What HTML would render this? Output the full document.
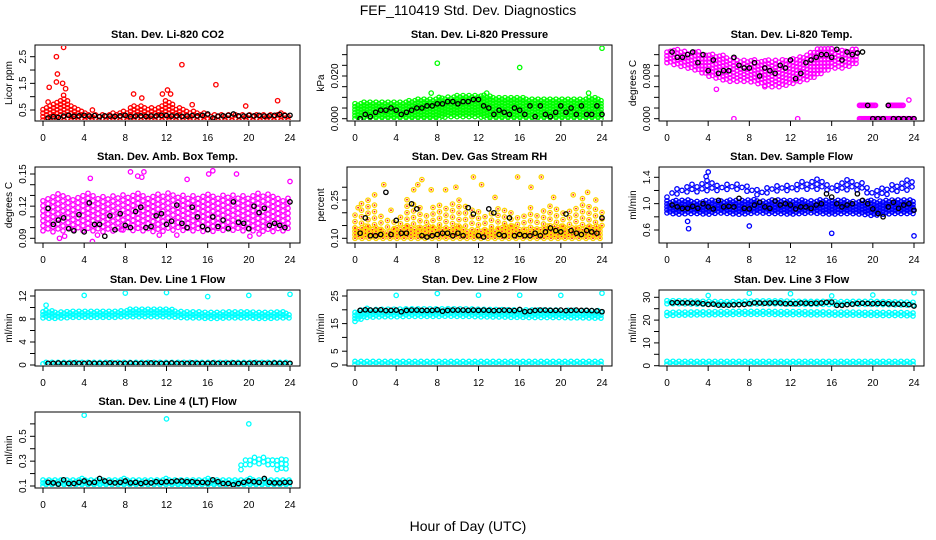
<!DOCTYPE html>
<html><head><meta charset="utf-8">
<style>
html,body{margin:0;padding:0;background:#fff;}
svg{display:block;font-family:"Liberation Sans",sans-serif;}
</style></head>
<body>
<svg id="chart" width="936" height="540" viewBox="0 0 936 540">
<text x="468" y="15" text-anchor="middle" font-size="14">FEF_110419  Std. Dev. Diagnostics</text>
<text x="468" y="531" text-anchor="middle" font-size="14">Hour of Day (UTC)</text>
</svg>
<script>
// ---------- data ----------
const hoursAll = [0,1,2,3,4,5,6,7,8,9,10,11,12,13,14,15,16,17,18,19,20,21,22,23,24];
const xTicks = [0,4,8,12,16,20,24];

// CO2
const co2Lo = [0.12,0.12,0.12,0.12,0.12,0.12,0.12,0.12,0.12,0.12,0.12,0.12,0.12,0.12,0.12,0.12,0.12,0.12,0.12,0.12,0.12,0.12,0.12,0.12,0.12];
const co2Hi = [0.5,0.8,0.9,0.7,0.4,0.35,0.35,0.4,0.45,0.7,0.6,0.55,0.9,0.6,0.5,0.4,0.35,0.35,0.3,0.3,0.3,0.3,0.3,0.4,0.35];
const co2OutH = [0.6,1.3,1.4,1.3,2.0,1.9,2.0,2.2,8.8,9.6,11.6,12.1,12.4,13.5,14.5,16.8,19.7,22.8,4.8,0.5];
const co2OutV = [1.35,1.55,1.85,2.5,2.85,1.5,1.05,1.3,1.1,0.95,1.1,1.25,1.1,2.2,0.7,1.45,0.65,0.85,0.5,0.8];
const co2Black = [0.2,0.25,0.22,0.27,0.3,0.26,0.28,0.3,0.27,0.29,0.25,0.28,0.27,0.26,0.28,0.3,0.25,0.27,0.28,0.26,0.27,0.28,0.3,0.29,0.27,0.28,0.26,0.27,0.29,0.28,0.3,0.35,0.2,0.27,0.28,0.3,0.35,0.28,0.27,0.3,0.28,0.3,0.27,0.28,0.3,0.33,0.29,0.3];

// Pressure
const prLo = [0.000,0.000,0.000,0.000,0.000,0.000,0.000,0.000,0.000,0.001,0.001,0.001,0.001,0.000,0.000,0.000,0.000,0.000,0.000,0.000,0.000,0.000,0.000,0.000,0.000];
const prHi = [0.007,0.008,0.008,0.008,0.008,0.008,0.009,0.009,0.010,0.010,0.011,0.011,0.011,0.011,0.010,0.010,0.010,0.009,0.009,0.009,0.009,0.009,0.009,0.010,0.009];
const prOutH = [8,16,24,7.4,12.8,22.7];
const prOutV = [0.026,0.024,0.033,0.012,0.012,0.012];
const prBlack = [0.000,0.002,0.001,0.003,0.004,0.004,0.005,0.004,0.002,0.003,0.004,0.005,0.005,0.006,0.006,0.007,0.007,0.008,0.008,0.007,0.008,0.008,0.009,0.009,0.006,0.005,0.002,0.004,0.003,0.002,0.005,0.004,0.002,0.006,0.001,0.006,0.002,0.001,0.003,0.006,0.003,0.005,0.002,0.006,0.002,0.002,0.006,0.002];

// Li-820 Temp
const tpHours = [0,1,2,3,4,5,6,7,8,9,10,11,12,13,14,15,16,17,18,18.5];
const tpLo = [0.0105,0.0100,0.0095,0.0090,0.0080,0.0075,0.0070,0.0070,0.0070,0.0065,0.0060,0.0060,0.0065,0.0070,0.0075,0.0085,0.0095,0.0095,0.0100,0.0105];
const tpHi = [0.0130,0.0130,0.0125,0.0125,0.0120,0.0120,0.0115,0.0110,0.0110,0.0110,0.0110,0.0110,0.0110,0.0115,0.0125,0.0135,0.0130,0.0130,0.0130,0.0130];
const tpSegStart = [18.7,18.7,21.5];
const tpSegEnd = [24,20.3,23.0];
const tpSegVal = [0.000,0.0025,0.0025];
const tpOutH = [6.5,12.7,23.5,4.8,9.5];
const tpOutV = [0.000,0.000,0.0035,0.0055,0.0060];
const tpBlack = [0.0125,0.0115,0.0115,0.0120,0.0125,0.0105,0.0120,0.0090,0.0110,0.0085,0.0090,0.0090,0.0115,0.0100,0.0095,0.0095,0.0105,0.0080,0.0095,0.0090,0.0085,0.0100,0.0095,0.0110,0.0075,0.0085,0.0105,0.0110,0.0115,0.0120,0.0120,0.0115,0.0130,0.0110,0.0125,0.0120,0.0123,0.0125,0.0025,0.0000,0.0000,0.0000,0.0025,0.0000,0.0000,0.0000,0.0000,0.0000];

// Amb box temp
const abLo = [0.097,0.096,0.097,0.098,0.097,0.097,0.096,0.097,0.098,0.097,0.097,0.096,0.097,0.098,0.097,0.097,0.096,0.097,0.098,0.097,0.097,0.097,0.096,0.097,0.097];
const abHi = [0.128,0.132,0.131,0.130,0.134,0.131,0.130,0.129,0.131,0.132,0.130,0.131,0.133,0.130,0.131,0.130,0.132,0.131,0.130,0.131,0.129,0.132,0.131,0.128,0.127];
const abOutH = [1.6,2.1,4.8,4.6,5.3,7.6,8.5,9.2,9.8,9.6,11.3,14.0,16.1,16.5,18.8,20.1,24.0,13.0,21.0];
const abOutV = [0.090,0.092,0.087,0.146,0.093,0.098,0.152,0.148,0.152,0.147,0.093,0.145,0.150,0.153,0.150,0.092,0.143,0.093,0.094];
const abBlack = [0.118,0.103,0.107,0.109,0.099,0.097,0.112,0.096,0.123,0.103,0.103,0.092,0.111,0.098,0.113,0.102,0.100,0.115,0.119,0.100,0.101,0.111,0.113,0.103,0.106,0.121,0.104,0.100,0.119,0.110,0.101,0.098,0.110,0.101,0.107,0.099,0.124,0.105,0.104,0.099,0.120,0.114,0.118,0.102,0.104,0.102,0.100,0.124];

// Gas stream RH
const rhLo = [0.10,0.10,0.10,0.10,0.10,0.10,0.10,0.10,0.10,0.10,0.10,0.10,0.10,0.10,0.10,0.10,0.10,0.10,0.10,0.10,0.10,0.10,0.10,0.10,0.10];
const rhHi = [0.14,0.15,0.14,0.13,0.14,0.15,0.14,0.15,0.14,0.14,0.15,0.13,0.14,0.13,0.14,0.15,0.14,0.13,0.14,0.15,0.15,0.14,0.14,0.15,0.15];
const rhHi2 = [0.20,0.26,0.24,0.18,0.16,0.26,0.25,0.20,0.25,0.22,0.26,0.24,0.22,0.20,0.24,0.22,0.18,0.22,0.20,0.24,0.22,0.22,0.26,0.24,0.20];
const rhOutH = [0.3,1.9,2.8,5.7,6.1,6.5,7.4,8.8,9.8,11.5,12.3,13.6,15.8,17.1,18.1,19.3,21.2,22.6,23.4,3.5];
const rhOutV = [0.22,0.27,0.31,0.29,0.31,0.33,0.29,0.29,0.30,0.34,0.31,0.26,0.34,0.30,0.34,0.26,0.27,0.28,0.25,0.21];
const rhBlack = [0.12,0.18,0.11,0.11,0.115,0.28,0.115,0.17,0.12,0.12,0.235,0.215,0.11,0.105,0.11,0.115,0.12,0.12,0.11,0.12,0.11,0.22,0.195,0.11,0.105,0.215,0.20,0.115,0.11,0.18,0.11,0.115,0.11,0.11,0.12,0.11,0.125,0.14,0.13,0.125,0.195,0.13,0.12,0.115,0.13,0.125,0.12,0.18];

// Sample flow
const sfLo = [0.86,0.84,0.85,0.85,0.84,0.86,0.85,0.84,0.85,0.86,0.85,0.85,0.84,0.85,0.86,0.85,0.84,0.85,0.85,0.84,0.82,0.84,0.85,0.85,0.85];
const sfHi = [1.04,1.05,1.05,1.04,1.06,1.05,1.05,1.04,1.06,1.05,1.05,1.05,1.04,1.06,1.05,1.05,1.06,1.05,1.04,1.05,1.05,1.04,1.05,1.05,1.05];
const sfLo2 = [1.10,1.15,1.18,1.18,1.20,1.20,1.22,1.22,1.18,1.12,1.18,1.20,1.20,1.22,1.22,1.22,1.20,1.20,1.22,1.20,1.12,1.12,1.18,1.20,1.22];
const sfHi2 = [1.15,1.25,1.28,1.32,1.38,1.30,1.30,1.32,1.28,1.20,1.25,1.28,1.30,1.32,1.38,1.40,1.30,1.35,1.38,1.32,1.20,1.25,1.30,1.35,1.40];
const sfOutH = [2.1,2.0,8.0,16.0,24.0,4.0,3.8];
const sfOutV = [0.62,0.73,0.66,0.55,0.51,1.48,1.41];
const sfBlack = [0.98,0.95,0.93,0.93,0.96,0.93,1.0,0.95,0.92,1.05,0.95,0.96,0.95,1.08,0.93,0.92,0.98,1.02,0.95,0.93,1.04,0.98,1.0,0.98,0.92,0.95,0.95,0.93,0.98,1.0,1.15,1.1,1.0,0.95,0.98,1.0,1.15,1.05,1.0,0.92,0.85,0.8,0.95,1.02,0.93,0.98,1.0,0.9];

// Line 1
const l1Lo = [8.2,8.1,8.2,8.3,8.3,8.3,8.3,8.3,8.4,8.4,8.4,8.4,8.4,8.3,8.2,8.2,8.1,8.1,8.2,8.2,8.2,8.1,8.1,8.2,8.2];
const l1Hi = [9.6,9.3,9.3,9.4,9.5,9.4,9.4,9.5,9.6,9.7,9.8,9.8,9.7,9.5,9.4,9.3,9.3,9.2,9.3,9.3,9.3,9.2,9.2,9.2,9.1];
const l1BLo = [0.2,0.2,0.2,0.2,0.2,0.2,0.2,0.2,0.2,0.2,0.2,0.2,0.2,0.2,0.2,0.2,0.2,0.2,0.2,0.2,0.2,0.2,0.2,0.2,0.2];
const l1BHi = [0.6,0.6,0.6,0.6,0.6,0.6,0.6,0.6,0.6,0.6,0.6,0.6,0.6,0.6,0.6,0.6,0.6,0.6,0.6,0.6,0.6,0.6,0.6,0.6,0.6];
const l1OutH = [4,8,12,16,20,24,0.3];
const l1OutV = [12.1,12.5,12.6,11.9,12.1,12.3,10.4];
const l1Black = [0.3,0.3,0.35,0.3,0.3,0.35,0.3,0.3,0.35,0.3,0.3,0.3,0.35,0.3,0.3,0.3,0.35,0.3,0.3,0.3,0.35,0.3,0.3,0.3,0.35,0.3,0.3,0.3,0.35,0.3,0.3,0.3,0.35,0.3,0.3,0.3,0.35,0.3,0.3,0.3,0.35,0.3,0.3,0.3,0.35,0.3,0.3,0.3];

// Line 2
const l2Lo = [15.8,17.2,17.4,17.5,17.5,17.6,17.6,17.6,17.6,17.7,17.6,17.6,17.5,17.4,17.4,17.3,17.3,17.2,17.2,17.2,17.2,17.1,17.1,17.0,17.0];
const l2Hi = [19.5,20.3,20.4,20.4,20.4,20.4,20.4,20.3,20.4,20.4,20.4,20.3,20.2,20.1,20.0,19.9,19.9,19.8,19.8,19.8,19.7,19.7,19.6,19.6,19.5];
const l2BLo = [0.2,0.2,0.2,0.2,0.2,0.2,0.2,0.2,0.2,0.2,0.2,0.2,0.2,0.2,0.2,0.2,0.2,0.2,0.2,0.2,0.2,0.2,0.2,0.2,0.2];
const l2BHi = [1.2,1.2,1.2,1.2,1.2,1.2,1.2,1.2,1.2,1.2,1.2,1.2,1.2,1.2,1.2,1.2,1.2,1.2,1.2,1.2,1.2,1.2,1.2,1.2,1.2];
const l2OutH = [4,8,12,16,20,24];
const l2OutV = [25.2,25.9,25.3,25.3,25.2,26.0];
const l2Black = [19.8,20.0,19.9,19.9,20.0,19.7,19.8,19.9,19.3,19.8,19.9,19.9,19.8,19.8,19.8,20.0,19.5,19.8,19.9,19.9,19.9,19.8,19.9,19.8,19.9,19.8,19.7,19.8,19.9,19.8,19.7,20.1,19.3,19.5,19.8,19.9,19.9,19.8,19.8,19.9,19.7,19.8,19.9,19.8,19.8,19.7,19.6,19.3];

// Line 3
const l3Lo = [22.0,22.2,22.2,22.3,22.3,22.4,22.4,22.5,22.5,22.5,22.5,22.4,22.4,22.4,22.3,22.3,22.2,22.2,22.2,22.1,22.1,22.0,22.0,22.0,21.8];
const l3Hi = [23.6,23.6,23.7,23.7,23.8,23.8,23.9,23.9,24.0,24.0,24.0,23.9,23.9,23.9,23.8,23.8,23.7,23.7,23.7,23.6,23.6,23.6,23.5,23.5,23.4];
const l3TLo = [27.2,27.2,27.1,27.0,26.9,26.8,26.8,26.9,27.0,27.1,27.1,27.1,27.0,26.9,26.9,26.9,26.8,26.8,26.9,26.9,26.9,26.8,26.7,26.6,26.5];
const l3THi = [28.6,28.5,28.4,28.3,28.2,28.1,28.2,28.3,28.5,28.6,28.6,28.5,28.4,28.4,28.3,28.3,28.2,28.2,28.3,28.3,28.2,28.1,28.0,27.9,27.8];
const l3BLo = [0.6,0.6,0.6,0.6,0.6,0.6,0.6,0.6,0.6,0.6,0.6,0.6,0.6,0.6,0.6,0.6,0.6,0.6,0.6,0.6,0.6,0.6,0.6,0.6,0.6];
const l3BHi = [1.8,1.8,1.8,1.8,1.8,1.8,1.8,1.8,1.8,1.8,1.8,1.8,1.8,1.8,1.8,1.8,1.8,1.8,1.8,1.8,1.8,1.8,1.8,1.8,1.8];
const l3OutH = [4,8,12,16,20,24];
const l3OutV = [30.8,31.8,31.6,30.6,31.0,32.0];
const l3Black = [27.6,27.7,27.6,27.6,27.5,27.5,27.2,26.9,27.0,26.6,26.6,26.6,26.7,26.8,26.9,27.2,27.6,27.5,27.4,27.5,27.6,27.5,27.2,27.3,27.2,27.5,27.4,27.3,27.4,27.5,27.8,27.9,26.5,26.5,26.8,27.0,27.3,27.4,27.3,27.2,27.3,27.3,27.1,27.0,27.0,26.9,26.8,26.2];

// Line 4
const l4Lo = [0.10,0.10,0.10,0.10,0.10,0.10,0.10,0.10,0.10,0.10,0.10,0.10,0.10,0.10,0.10,0.10,0.10,0.10,0.10,0.10,0.10,0.10,0.10,0.10,0.10];
const l4Hi = [0.15,0.15,0.15,0.15,0.16,0.15,0.15,0.15,0.16,0.15,0.15,0.15,0.16,0.15,0.15,0.15,0.16,0.15,0.15,0.15,0.16,0.15,0.15,0.15,0.15];
const l4UHours = [19,20,21,22,23,24];
const l4ULo = [0.22,0.27,0.28,0.27,0.22,0.25];
const l4UHi = [0.27,0.34,0.33,0.33,0.33,0.32];
const l4OutH = [4,12,20];
const l4OutV = [0.67,0.64,0.60];
const l4Black = [0.13,0.125,0.115,0.15,0.12,0.12,0.13,0.14,0.125,0.13,0.16,0.14,0.13,0.125,0.13,0.14,0.125,0.13,0.12,0.13,0.125,0.135,0.13,0.135,0.135,0.14,0.14,0.135,0.135,0.13,0.13,0.125,0.15,0.135,0.12,0.12,0.11,0.12,0.13,0.14,0.135,0.13,0.16,0.13,0.125,0.125,0.13,0.13];

// ---------- rendering ----------
const NS = "http://www.w3.org/2000/svg";
const svg = document.getElementById('chart');
function mk(tag, attrs, parent){const e=document.createElementNS(NS,tag);for(const k in attrs)e.setAttribute(k,attrs[k]);(parent||svg).appendChild(e);return e;}
function interp(hs, vs, h){
  if(h<hs[0]||h>hs[hs.length-1])return null;
  for(let i=0;i<hs.length-1;i++){if(h>=hs[i]&&h<=hs[i+1]){const t=(h-hs[i])/(hs[i+1]-hs[i]);return vs[i]+t*(vs[i+1]-vs[i]);}}
  return vs[vs.length-1];
}

const colX = [[35,300,43,290],[347,612,355,602],[659,924,667,914]];
const rowY = [[45,121],[167,243],[290,366],[412,488]];

function panel(o){
  const [bx0,bx1,x0,x24]=colX[o.col];
  const [by0,by1]=rowY[o.row];
  const g=mk('g',{});
  
  
  const xs=h=>x0+(h/24)*(x24-x0);
  const ys=v=>o.py0+(v-o.v0)/(o.v1-o.v0)*(o.py1-o.py0);
  const xInv=px=>(px-x0)/(x24-x0)*24;
  const clip='clip'+o.name;
  const cp=mk('clipPath',{id:clip},g);
  mk('rect',{x:bx0+1,y:by0+1,width:bx1-bx0-2,height:by1-by0-2},cp);
  const pts=mk('g',{'clip-path':'url(#'+clip+')'},g);
  function pt(h,v,color,dot){
    const c=mk('circle',{cx:xs(h).toFixed(1),cy:ys(v).toFixed(1),r:2.2,fill:'none',stroke:color,'stroke-width':1.3},pts);
    
    
    if(dot){mk('circle',{cx:xs(h).toFixed(1),cy:ys(v).toFixed(1),r:0.9,fill:dot},pts);}
  }
  (o.bands||[]).forEach(b=>{
    const step=b.step||3;
    let k=0;
    for(let px=x0;px<=x24+0.1;px+=step,k++){
      const h=xInv(px);
      const lo=interp(b.hours,b.lo,h), hi=interp(b.hours,b.hi,h);
      if(lo===null||hi===null)continue;
      const pyA=ys(lo), pyB=ys(hi);
      const top=Math.min(pyA,pyB), bot=Math.max(pyA,pyB);
      for(let py=bot-(k%2?step/2:0);py>=top-0.5;py-=step){
        pt(h,o.v0+(py-o.py0)/(o.py1-o.py0)*(o.v1-o.v0),b.color,b.dot);
      }
    }
  });
  (o.segs||[]).forEach(s=>{
    for(let h=s.a;h<=s.b+0.01;h+=0.12)pt(h,s.v,s.color);
  });
  (o.outs||[]).forEach(s=>{s.h.forEach((h,i)=>pt(h,s.v[i],s.color,s.dot));});
  if(o.black){o.black.forEach((v,i)=>pt((i+1)*0.5,v,'#000'));}
  const box=mk('rect',{x:bx0,y:by0,width:bx1-bx0,height:by1-by0,fill:'none',stroke:'#000','stroke-width':1},g);
  
  
  const t=mk('text',{x:(bx0+bx1)/2,y:by0-7,'text-anchor':'middle','font-size':11,'font-weight':'bold'},g);
  t.textContent=o.title;
  
  
  const xa=mk('g',{},g);
  
  
  mk('line',{x1:x0,x2:x24,y1:by1,y2:by1,stroke:'#000'},xa);
  xTicks.forEach(v=>{
    mk('line',{x1:xs(v),x2:xs(v),y1:by1,y2:by1+5,stroke:'#000'},xa);
    const tl=mk('text',{x:xs(v),y:by1+20,'text-anchor':'middle','font-size':10},xa);
    tl.textContent=v;
    
    
  });
  const ya=mk('g',{},g);
  
  
  o.ticks.forEach(v=>{mk('line',{x1:bx0,x2:bx0-5,y1:ys(v),y2:ys(v),stroke:'#000'},ya);});
  o.labels.forEach((lab,i)=>{
    const y=ys(o.labelVals[i]);
    const tl=mk('text',{x:0,y:0,'text-anchor':'middle','font-size':10,transform:`translate(${bx0-9},${y}) rotate(-90)`},ya);
    tl.textContent=lab;
    
    
  });
  const yl=mk('text',{x:0,y:0,'text-anchor':'middle','font-size':10,transform:`translate(${bx0-23},${(by0+by1)/2}) rotate(-90)`},g);
  yl.textContent=o.ylab;
  
  
}

panel({name:'panel-co2',col:0,row:0,title:'Stan. Dev. Li-820 CO2',ylab:'Licor ppm',v0:0.5,py0:110,v1:2.5,py1:56.7,
  ticks:[0.5,1,1.5,2,2.5],labels:['0.5','1.5','2.5'],labelVals:[0.5,1.5,2.5],
  bands:[{hours:hoursAll,lo:co2Lo,hi:co2Hi,color:'#ff0000',step:3.5}],
  outs:[{h:co2OutH,v:co2OutV,color:'#ff0000'}],black:co2Black});
panel({name:'panel-pressure',col:1,row:0,title:'Stan. Dev. Li-820 Pressure',ylab:'kPa',v0:0,py0:118.7,v1:0.02,py1:76,
  ticks:[0,0.005,0.01,0.015,0.02,0.025,0.03],labels:['0.000','0.020'],labelVals:[0,0.02],
  bands:[{hours:hoursAll,lo:prLo,hi:prHi,color:'#00ff00'}],
  outs:[{h:prOutH,v:prOutV,color:'#00ff00'}],black:prBlack});
panel({name:'panel-li820-temp',col:2,row:0,title:'Stan. Dev. Li-820 Temp.',ylab:'degrees C',v0:0,py0:118.7,v1:0.008,py1:76,
  ticks:[0,0.002,0.004,0.006,0.008,0.010,0.012],labels:['0.000','0.008'],labelVals:[0,0.008],
  bands:[{hours:tpHours,lo:tpLo,hi:tpHi,color:'#ff00ff',step:3.5}],
  segs:tpSegStart.map((a,i)=>({a:a,b:tpSegEnd[i],v:tpSegVal[i],color:'#ff00ff'})),
  outs:[{h:tpOutH,v:tpOutV,color:'#ff00ff'}],black:tpBlack});
panel({name:'panel-amb-box-temp',col:0,row:1,title:'Stan. Dev. Amb. Box Temp.',ylab:'degrees C',v0:0.09,py0:238.3,v1:0.15,py1:174,
  ticks:[0.09,0.1,0.11,0.12,0.13,0.14,0.15],labels:['0.09','0.12','0.15'],labelVals:[0.09,0.12,0.15],
  bands:[{hours:hoursAll,lo:abLo,hi:abHi,color:'#ff00ff',step:5}],
  outs:[{h:abOutH,v:abOutV,color:'#ff00ff'}],black:abBlack});
panel({name:'panel-gas-stream-rh',col:1,row:1,title:'Stan. Dev. Gas Stream RH',ylab:'percent',v0:0.10,py0:238.3,v1:0.25,py1:200,
  ticks:[0.10,0.15,0.20,0.25,0.30],labels:['0.10','0.25'],labelVals:[0.10,0.25],
  bands:[{hours:hoursAll,lo:rhLo,hi:rhHi,color:'#ffd400',dot:'#ff2000',step:3.5},{hours:hoursAll,lo:rhHi,hi:rhHi2,color:'#ffd400',dot:'#ff2000',step:6.5}],
  outs:[{h:rhOutH,v:rhOutV,color:'#ffd400',dot:'#ff2000'}],black:rhBlack});
panel({name:'panel-sample-flow',col:2,row:1,title:'Stan. Dev. Sample Flow',ylab:'ml/min',v0:0.6,py0:230,v1:1.4,py1:177.3,
  ticks:[0.6,0.8,1.0,1.2,1.4],labels:['0.6','1.0','1.4'],labelVals:[0.6,1.0,1.4],
  bands:[{hours:hoursAll,lo:sfLo,hi:sfHi,color:'#0000ff'},{hours:hoursAll,lo:sfLo2,hi:sfHi2,color:'#0000ff',step:5}],
  outs:[{h:sfOutH,v:sfOutV,color:'#0000ff'}],black:sfBlack});
panel({name:'panel-line1-flow',col:0,row:2,title:'Stan. Dev. Line 1 Flow',ylab:'ml/min',v0:0,py0:365,v1:12,py1:296,
  ticks:[0,2,4,6,8,10,12],labels:['0','4','8','12'],labelVals:[0,4,8,12],
  bands:[{hours:hoursAll,lo:l1Lo,hi:l1Hi,color:'#00ffff'},{hours:hoursAll,lo:l1BLo,hi:l1BHi,color:'#00ffff'}],
  outs:[{h:l1OutH,v:l1OutV,color:'#00ffff'}],black:l1Black});
panel({name:'panel-line2-flow',col:1,row:2,title:'Stan. Dev. Line 2 Flow',ylab:'ml/min',v0:0,py0:365,v1:25,py1:296,
  ticks:[0,5,10,15,20,25],labels:['0','5','15','25'],labelVals:[0,5,15,25],
  bands:[{hours:hoursAll,lo:l2Lo,hi:l2Hi,color:'#00ffff'},{hours:hoursAll,lo:l2BLo,hi:l2BHi,color:'#00ffff'}],
  outs:[{h:l2OutH,v:l2OutV,color:'#00ffff'}],black:l2Black});
panel({name:'panel-line3-flow',col:2,row:2,title:'Stan. Dev. Line 3 Flow',ylab:'ml/min',v0:0,py0:365.7,v1:30,py1:297.3,
  ticks:[0,5,10,15,20,25,30],labels:['0','10','20','30'],labelVals:[0,10,20,30],
  bands:[{hours:hoursAll,lo:l3Lo,hi:l3Hi,color:'#00ffff'},{hours:hoursAll,lo:l3TLo,hi:l3THi,color:'#00ffff'},{hours:hoursAll,lo:l3BLo,hi:l3BHi,color:'#00ffff'}],
  outs:[{h:l3OutH,v:l3OutV,color:'#00ffff'}],black:l3Black});
panel({name:'panel-line4-flow',col:0,row:3,title:'Stan. Dev. Line 4 (LT) Flow',ylab:'ml/min',v0:0.1,py0:486,v1:0.5,py1:436.3,
  ticks:[0.1,0.2,0.3,0.4,0.5,0.6],labels:['0.1','0.3','0.5'],labelVals:[0.1,0.3,0.5],
  bands:[{hours:hoursAll,lo:l4Lo,hi:l4Hi,color:'#00ffff'},{hours:l4UHours,lo:l4ULo,hi:l4UHi,color:'#00ffff',step:4.5}],
  outs:[{h:l4OutH,v:l4OutV,color:'#00ffff'}],black:l4Black});
</script>
</body></html>
